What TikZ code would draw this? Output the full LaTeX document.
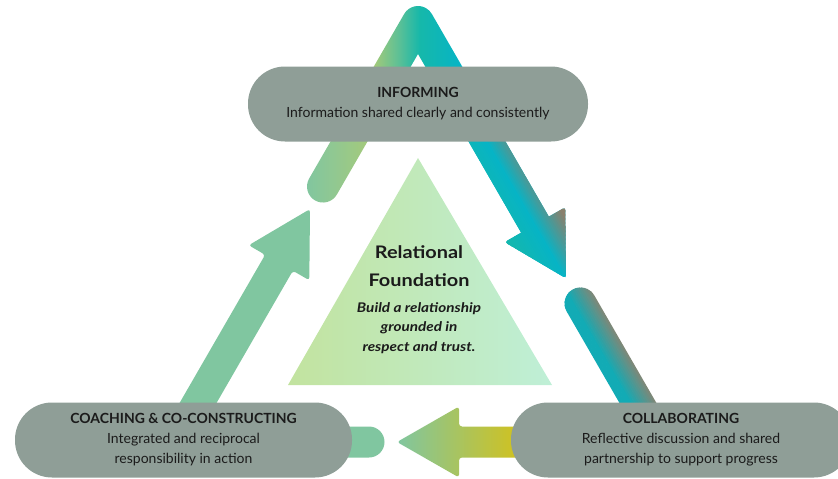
\documentclass[tikz,border=0pt]{standalone}
\usepackage{fontspec}
\setmainfont{Lato}
\newfontfamily\widelato{Lato}[FakeStretch=1.15]
\usetikzlibrary{calc}
\definecolor{pillgrey}{HTML}{8F9E97}
\definecolor{seagreen}{HTML}{80C6A0}
\definecolor{sagegreen}{HTML}{92C890}
\definecolor{limegreen}{HTML}{A6CA78}
\definecolor{mintgreen}{HTML}{5CC096}
\definecolor{greenteal}{HTML}{16B8AA}
\definecolor{arrowteal}{HTML}{06B4C6}
\definecolor{armbrown}{HTML}{8A806C}
\definecolor{segteal}{HTML}{12ABB5}
\definecolor{segbrown}{HTML}{7E8878}
\definecolor{goldgreen}{HTML}{BDC44E}
\definecolor{gold}{HTML}{D8C114}
\definecolor{trilime}{HTML}{C2E39F}
\definecolor{trimint}{HTML}{A9EBD0}
\definecolor{tripale}{HTML}{BFEFD7}
\definecolor{inktext}{HTML}{1B1B1B}
\pgfdeclarehorizontalshading{apexfill}{100bp}{color(0bp)=(seagreen); color(25bp)=(seagreen); color(31bp)=(sagegreen); color(38bp)=(limegreen); color(43bp)=(mintgreen); color(47bp)=(greenteal); color(55bp)=(arrowteal); color(100bp)=(arrowteal)}

\begin{document}
\begin{tikzpicture}[x=1pt, y=-1pt,
  pill/.style={fill=pillgrey, rounded corners=37pt, minimum height=75pt, align=center, text=inktext, font=\fontsize{14}{20}\selectfont},
  stripe/.style={line width=2.6pt}]
\useasboundingbox (0,0) rectangle (838,479);
\coordinate (A) at (418,22);
\coordinate (Lc) at ($(A)+(120:190)$);
\coordinate (Lt) at ($(A)+(120:216)$);
\coordinate (Lh) at ($(A)+(120:278)$);
\coordinate (Lb) at ($(A)+(120:470)$);
\coordinate (Rs) at ($(A)+(60:100)$);
\coordinate (Rh) at ($(A)+(60:234)$);
\coordinate (Rt) at ($(A)+(60:296)$);
\coordinate (Rc) at ($(A)+(60:325)$);
\coordinate (Rb) at ($(A)+(60:470)$);
\coordinate (Bt) at (397,442);
\coordinate (Bh) at (459,442);
\coordinate (Bb) at (530,442);
\coordinate (Sc) at (369,442);
\coordinate (Sb) at (330,442);
\coordinate (T1) at (418,158);
\coordinate (T2) at (552,385);
\coordinate (T3) at (288,385);

\shade[left color=trilime, middle color=trimint, right color=tripale] (T1) -- (T2) -- (T3) -- cycle;

\fill[seagreen, rounded corners=3pt] ($(Lb)+(210:16)$) -- ($(Lh)+(210:16)$) -- ($(Lh)+(210:35)$) -- (Lt) -- ($(Lh)+(30:35)$) -- ($(Lh)+(30:16)$) -- ($(Lb)+(30:16)$) -- cycle;

\shade[shading=apexfill] ($(Lc)+(210:16)$) -- ($(A)+(210:16)$) arc[start angle=210, end angle=330, radius=16]
  -- ($(Rh)+(330:16)$) [rounded corners=3pt] -- ($(Rh)+(330:35)$) -- (Rt) -- ($(Rh)+(150:35)$) [sharp corners] -- ($(Rh)+(150:16)$)
  -- ($(A)+(90:32)$) -- ($(Lc)+(30:16)$) arc[start angle=30, end angle=210, radius=16] -- cycle;

\begin{scope}
\clip ($(Rs)+(330:16)$) -- ($(Rh)+(330:16)$) [rounded corners=3pt] -- ($(Rh)+(330:35)$) -- (Rt) -- ($(Rh)+(150:35)$) [sharp corners] -- ($(Rh)+(150:16)$) -- ($(Rs)+(150:16)$) -- cycle;
\foreach \k in {-36,-34,...,0} {
  \pgfmathsetmacro\q{abs(\k)*100/36}
  \draw[stripe, color=greenteal!\q!arrowteal] ($(Rs)+(330:\k)$) -- ($(Rt)+(330:\k)+(60:4)$);
}
\foreach \k in {2,4,...,36} {
  \pgfmathsetmacro\p{min(100,\k*100/30)}
  \draw[stripe, color=armbrown!\p!arrowteal] ($(Rs)+(330:\k)$) -- ($(Rt)+(330:\k)+(60:4)$);
}
\end{scope}

\begin{scope}
\clip ($(Rb)+(150:16)$) -- ($(Rc)+(150:16)$) arc[start angle=150, end angle=330, radius=16] -- ($(Rb)+(330:16)$) -- cycle;
\foreach \k in {-16,-14,...,16} {
  \pgfmathsetmacro\p{max(0,\k+6)*100/22}
  \draw[stripe, color=segbrown!\p!segteal] ($(Rc)+(330:\k)+(240:18)$) -- ($(Rb)+(330:\k)$);
}
\end{scope}

\shade[left color=seagreen, middle color=goldgreen, right color=gold, rounded corners=3pt] ($(Bb)+(0,-15.5)$) -- ($(Bh)+(0,-15.5)$) -- ($(Bh)+(0,-35.5)$) -- (Bt) -- ($(Bh)+(0,35.5)$) -- ($(Bh)+(0,15.5)$) -- ($(Bb)+(0,15.5)$) -- cycle;
\fill[seagreen] ($(Sb)+(0,-15.5)$) -- ($(Sc)+(0,-15.5)$) arc[start angle=270, end angle=450, radius=15.5] -- ($(Sb)+(0,15.5)$) -- cycle;

\node[pill, minimum width=340pt] (INF) at (418,104) {\textbf{INFORMING}\\Information shared clearly and consistently};
\node[pill, minimum width=337pt] (COA) at (183.5,440) {\textbf{COACHING \& CO-CONSTRUCTING}\\Integrated and reciprocal\\responsibility in action};
\node[pill, minimum width=340pt] (COL) at (681,440) {\textbf{COLLABORATING}\\Reflective discussion and shared\\partnership to support progress};
\node[font=\widelato\fontsize{17.3}{28}\selectfont\bfseries, align=center, text=inktext] (RF) at (419,266) {Relational\\Foundation};
\node[font=\widelato\fontsize{13.3}{19.5}\selectfont\bfseries\itshape, align=center, text=inktext] (RB) at (419,328) {Build a relationship\\grounded in\\respect and trust.};
\end{tikzpicture}
\end{document}
